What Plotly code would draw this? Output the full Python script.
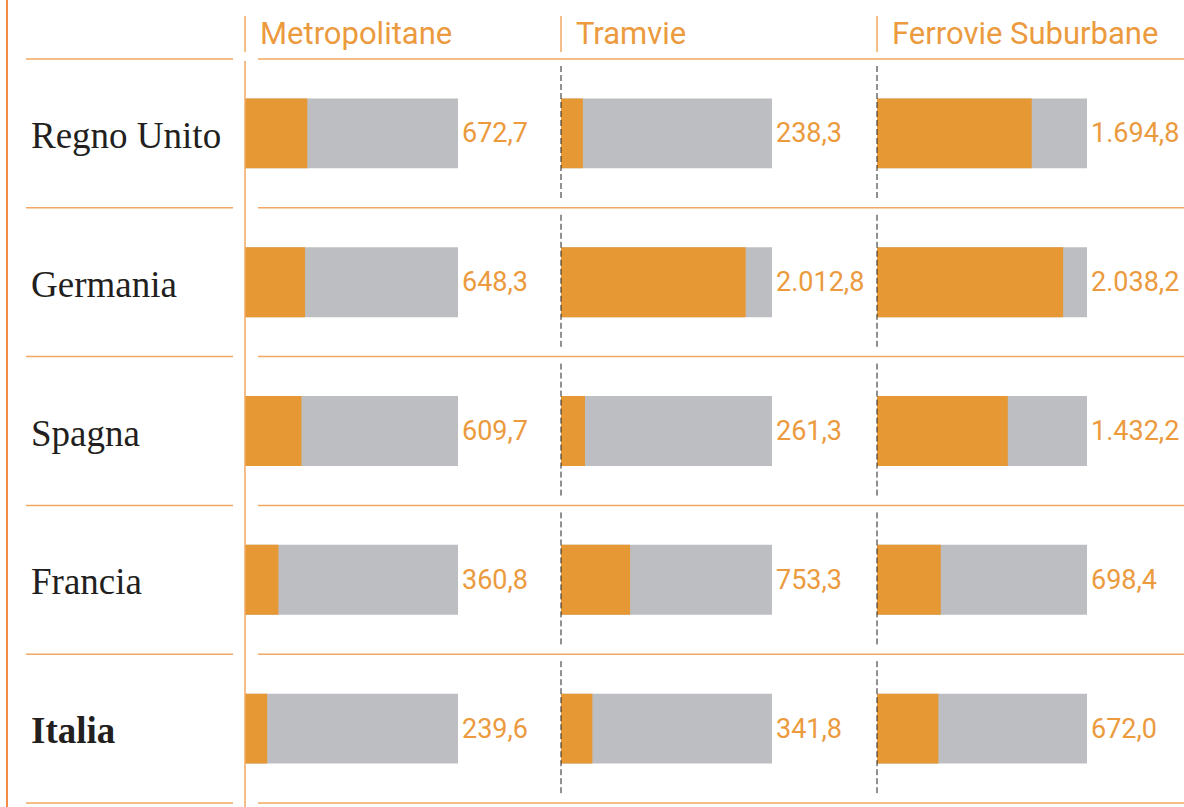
import plotly.graph_objects as go

# ---- data ----
countries = ["Regno Unito", "Germania", "Spagna", "Francia", "Italia"]
panels = ["Metropolitane", "Tramvie", "Ferrovie Suburbane"]
metropolitane = [672.7, 648.3, 609.7, 360.8, 239.6]
tramvie = [238.3, 2012.8, 261.3, 753.3, 341.8]
ferrovie = [1694.8, 2038.2, 1432.2, 698.4, 672.0]
series = [metropolitane, tramvie, ferrovie]
TRACK_MAX = 2300  # full length of the grey track

# ---- style ----
W, H = 1184, 807
ORANGE = "#E69834"
GREY = "#BDBEC1"
LINE = "#F2A862"
TEXT_OR = "#EB9A3E"
COND = "Liberation Sans Narrow, Arial Narrow, Roboto, sans-serif"
SERIF = "Liberation Serif, Times New Roman, serif"

def it_fmt(v):
    s = f"{v:,.1f}"
    return s.replace(",", "X").replace(".", ",").replace("X", ".")

def px_x(p):
    return p / W

def px_y(p):
    return 1 - p / H

panel_px = [(245, 458), (561, 772), (877, 1087)]
y_top, y_bot = 59, 803

fig = go.Figure()
layout = dict(
    width=W, height=H, margin=dict(l=0, r=0, t=0, b=0),
    paper_bgcolor="white", plot_bgcolor="rgba(0,0,0,0)",
    barmode="overlay", showlegend=False,
    yaxis=dict(domain=[px_y(y_bot), px_y(y_top)], categoryorder="array",
               categoryarray=countries, autorange="reversed",
               showgrid=False, zeroline=False, showticklabels=False,
               showline=False, fixedrange=True),
)

annotations = []
shapes = []

for i, (name, vals) in enumerate(zip(panels, series)):
    xa = "x" if i == 0 else f"x{i+1}"
    key = "xaxis" if i == 0 else f"xaxis{i+1}"
    x0, x1 = panel_px[i]
    layout[key] = dict(domain=[px_x(x0), px_x(x1)], range=[0, TRACK_MAX],
                       showgrid=False, zeroline=False, showticklabels=False,
                       showline=False, fixedrange=True, anchor="y")
    fig.add_trace(go.Bar(x=[TRACK_MAX] * len(countries), y=countries, orientation="h",
                         marker=dict(color=GREY, line=dict(width=0)), width=0.47,
                         xaxis=xa, yaxis="y", hoverinfo="skip"))
    fig.add_trace(go.Bar(x=vals, y=countries, orientation="h",
                         marker=dict(color=ORANGE, line=dict(width=0)), width=0.47,
                         xaxis=xa, yaxis="y", hovertemplate="%{y}: %{x}<extra></extra>"))
    for c, v in zip(countries, vals):
        annotations.append(dict(x=TRACK_MAX, y=c, xref=xa, yref="y", text=it_fmt(v),
                                xanchor="left", yanchor="middle", xshift=2, showarrow=False,
                                font=dict(family=COND, size=27, color=TEXT_OR)))
    # header
    annotations.append(dict(x=px_x(x0 + 13), y=px_y(33), xref="paper", yref="paper",
                            text=name, xanchor="left", yanchor="middle", showarrow=False,
                            font=dict(family=COND, size=31, color=TEXT_OR)))
    shapes.append(dict(type="line", xref="paper", yref="paper",
                       x0=px_x(x0), x1=px_x(x0), y0=px_y(16), y1=px_y(52),
                       line=dict(color=LINE, width=1.5)))

# row labels
for k, c in enumerate(countries):
    txt = f"<b>{c}</b>" if c == "Italia" else c
    annotations.append(dict(x=px_x(29), y=c, xref="paper", yref="y", text=txt,
                            xanchor="left", yanchor="middle", showarrow=False, yshift=-2,
                            font=dict(family=SERIF, size=37, color="#231F20")))

# horizontal separators
n = len(countries)
row_h = (y_bot - y_top) / n
for k in range(n + 1):
    yy = y_top + k * row_h
    shapes.append(dict(type="line", xref="paper", yref="paper", x0=px_x(26), x1=px_x(233),
                       y0=px_y(yy), y1=px_y(yy), line=dict(color=LINE, width=1.5)))
    shapes.append(dict(type="line", xref="paper", yref="paper", x0=px_x(258), x1=px_x(1184),
                       y0=px_y(yy), y1=px_y(yy), line=dict(color=LINE, width=1.5)))

# left edge line
shapes.append(dict(type="line", xref="paper", yref="paper", x0=px_x(7), x1=px_x(7),
                   y0=0, y1=1, line=dict(color="#F08C44", width=2)))
# first panel solid line
shapes.append(dict(type="line", xref="paper", yref="paper", x0=px_x(245), x1=px_x(245),
                   y0=px_y(61), y1=0, line=dict(color=LINE, width=1.5)))
# dashed lines for other panels
for x0, _ in panel_px[1:]:
    for k in range(n):
        ya = y_top + k * row_h + 7
        yb = y_top + (k + 1) * row_h - 7
        shapes.append(dict(type="line", xref="paper", yref="paper", x0=px_x(x0), x1=px_x(x0),
                           y0=px_y(ya), y1=px_y(yb),
                           line=dict(color="#222222", width=1, dash="6px,3px")))

layout["annotations"] = annotations
layout["shapes"] = shapes
fig.update_layout(**layout)
fig.write_html("out.html", config={"displayModeBar": False},
               post_script="document.body.style.margin='0';document.body.style.overflow='hidden';")
